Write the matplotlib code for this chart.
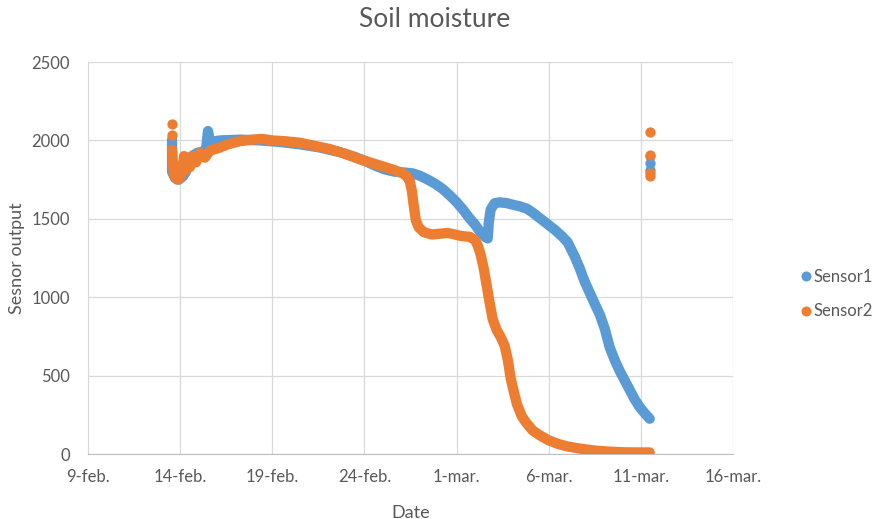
import datetime as dt

import matplotlib
matplotlib.use("Agg")
import matplotlib.dates as mdates
import matplotlib.pyplot as plt
from matplotlib.lines import Line2D

# days since 9 Feb (fractional) and sensor output
S1_DAYS = [4.56, 4.56, 4.56, 4.72, 4.93, 5.15, 5.31, 5.48, 5.64, 5.91, 6.24, 6.40,
           6.51, 6.62, 7.16, 8.24, 9.33, 10.41, 11.50, 12.58, 13.67, 14.48, 15.02,
           15.56, 16.11, 16.65, 17.19, 17.62, 18.00, 18.44, 18.82, 19.25, 19.63,
           20.01, 20.34, 20.66, 20.99, 21.26, 21.53, 21.69, 21.75, 21.85, 22.07,
           22.34, 22.72, 23.05, 23.43, 23.81, 24.13, 24.51, 24.95, 25.33, 25.71,
           26.03, 26.41, 26.68, 26.95, 27.22, 27.49, 27.77, 28.04, 28.31, 28.58,
           28.85, 29.12, 29.39, 29.66, 29.93, 30.21, 30.48]
S1_VALUES = [2005, 1900, 1800, 1760, 1750, 1770, 1800, 1850, 1900, 1920, 1930, 1940,
             2060, 1990, 2000, 2005, 2000, 1990, 1975, 1955, 1925, 1895, 1870,
             1840, 1815, 1800, 1795, 1790, 1775, 1750, 1725, 1690, 1650,
             1605, 1560, 1510, 1465, 1420, 1385, 1375, 1480, 1560, 1600,
             1605, 1600, 1590, 1580, 1565, 1540, 1505, 1465, 1430, 1390,
             1350, 1260, 1185, 1100, 1030, 960, 890, 800, 680, 600,
             530, 470, 410, 350, 300, 260, 225]

S2_DAYS = [4.56, 4.61, 4.66, 4.83, 4.99, 5.10, 5.21, 5.31, 5.42, 5.53, 5.69, 5.86,
           6.07, 6.34, 6.62, 7.05, 7.59, 8.24, 8.89, 9.44, 9.98, 10.68, 11.50,
           12.31, 13.12, 13.94, 14.75, 15.56, 16.11, 16.65, 17.08, 17.30, 17.46,
           17.57, 17.68, 17.79, 17.95, 18.22, 18.66, 19.09, 19.52, 19.90, 20.28,
           20.72, 20.99, 21.15, 21.31, 21.48, 21.64, 21.80, 21.96, 22.18, 22.40,
           22.61, 22.78, 22.94, 23.10, 23.27, 23.54, 23.81, 24.13, 24.51, 24.95,
           25.49, 26.03, 26.68, 27.49, 28.31, 29.12, 29.93, 30.48]
S2_VALUES = [1940, 1850, 1780, 1750, 1760, 1800, 1900, 1810, 1890, 1830, 1900, 1860,
             1920, 1890, 1935, 1950, 1975, 1995, 2005, 2010, 2000, 1995, 1985,
             1965, 1945, 1915, 1880, 1850, 1830, 1810, 1790, 1770, 1740,
             1680, 1580, 1490, 1445, 1415, 1400, 1405, 1410, 1400, 1390,
             1385, 1365, 1330, 1270, 1180, 1070, 960, 860, 790, 745,
             690, 600, 480, 400, 320, 240, 195, 150, 120, 90,
             65, 48, 35, 22, 15, 11, 10, 10]

# isolated readings (before planting / after pulling the sensors)
S1_SPOT_DAYS = [30.48, 30.48, 30.48]
S1_SPOT_VALUES = [1900, 1856, 1810]
S2_SPOT_DAYS = [4.56, 4.56, 30.48, 30.48, 30.48, 30.48]
S2_SPOT_VALUES = [2105, 2035, 2053, 1907, 1792, 1775]

TICK_DAYS = [0, 5, 10, 15, 20, 25, 30, 35]
TICK_LABELS = ["9-feb.", "14-feb.", "19-feb.", "24-feb.", "1-mar.", "6-mar.",
               "11-mar.", "16-mar."]

BLUE = "#5B9BD5"
ORANGE = "#ED7D31"
TEXT = "#595959"
GRID = "#D9D9D9"

plt.rcParams["font.family"] = ["Lato", "DejaVu Sans"]

start = mdates.date2num(dt.datetime(2019, 2, 9))


def to_x(days):
    return [start + d for d in days]


fig = plt.figure(figsize=(8.75, 5.19), dpi=100)
ax = fig.add_axes([0.1006, 0.1252, 0.7371, 0.7553])

lw = 7.4  # band width in points, same as the dot diameter
for days, vals, sdays, svals, col, z in [
        (S1_DAYS, S1_VALUES, S1_SPOT_DAYS, S1_SPOT_VALUES, BLUE, 3),
        (S2_DAYS, S2_VALUES, S2_SPOT_DAYS, S2_SPOT_VALUES, ORANGE, 4)]:
    ax.plot(to_x(days), vals, color=col, lw=lw, solid_capstyle="round",
            solid_joinstyle="round", zorder=z)
    ax.scatter(to_x(sdays), svals, s=lw ** 2, color=col, linewidths=0, zorder=z)

ax.set_xlim(start + TICK_DAYS[0], start + TICK_DAYS[-1])
ax.set_ylim(0, 2500)
ax.set_xticks(to_x(TICK_DAYS))
ax.set_xticklabels(TICK_LABELS)
ax.set_yticks(range(0, 2501, 500))

ax.grid(True, color=GRID, lw=0.9, zorder=0)
ax.set_axisbelow(True)
for side in ["top", "right"]:
    ax.spines[side].set_visible(False)
ax.spines["left"].set_color(GRID)
ax.spines["bottom"].set_color("#BFBFBF")
ax.tick_params(length=0, labelsize=12, colors=TEXT, pad=11)
ax.tick_params(axis="y", pad=13)

ax.set_xlabel("Date", fontsize=13, color=TEXT, labelpad=14)
ax.set_ylabel("Sesnor output", fontsize=13, color=TEXT, labelpad=5)
fig.text(0.497, 0.962, "Soil moisture", ha="center", va="center",
         fontsize=19, color=TEXT)

handles = [Line2D([], [], ls="", marker="o", ms=7.2, color=c, mec="none")
           for c in (BLUE, ORANGE)]
fig.legend(handles, ["Sensor1", "Sensor2"], loc="center left",
           bbox_to_anchor=(0.906, 0.433), frameon=False, fontsize=12,
           labelcolor=TEXT, handlelength=0.6, handletextpad=0.15,
           labelspacing=1.1, borderpad=0)

fig.savefig("out.png", dpi=100)
